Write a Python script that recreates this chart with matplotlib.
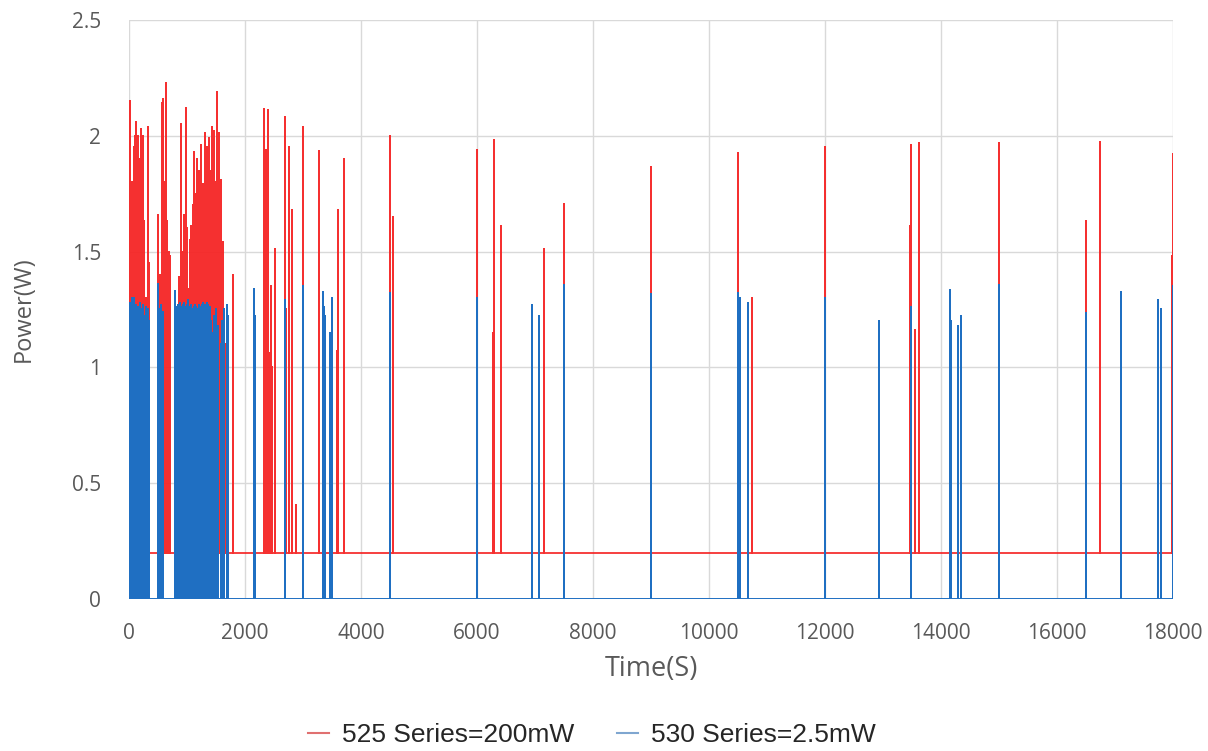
import matplotlib
matplotlib.use("Agg")
import matplotlib.pyplot as plt
from matplotlib.lines import Line2D

# ---- data: spike times (s) and peak powers (W) ----
red_base = 0.2
red_t = [17, 30, 45, 63, 80, 103, 121, 140, 161, 180, 207, 220, 236, 250, 264, 290, 322, 340,
         506, 530, 563, 578, 592, 610, 632, 645, 661, 685, 707,
         868, 897, 920, 948, 965, 983, 1000, 1023, 1045, 1063, 1090, 1110, 1126, 1150, 1178,
         1195, 1213, 1236, 1255, 1270, 1290, 1316, 1335, 1351, 1370, 1385, 1405, 1425, 1445,
         1466, 1490, 1512, 1530, 1546, 1565, 1580, 1605, 1627, 1650, 1799,
         2333, 2345, 2360, 2375, 2391, 2405, 2420, 2440, 2470, 2517, 2690, 2700, 2757, 2815,
         2879, 3006, 3276, 3580, 3597, 3712,
         4500, 4557, 6005, 6270, 6298, 6413, 7160, 7500, 8994, 10505, 10746, 12000,
         13462, 13490, 13548, 13617, 14998, 16500, 16742, 17990, 17997]
red_h = [2.15, 1.6, 1.8, 1.8, 1.95, 2.0, 2.06, 1.7, 2.0, 1.9, 2.03, 1.75, 2.0, 1.5, 1.63, 1.3, 2.04, 1.45,
         1.66, 1.4, 2.14, 1.9, 2.16, 1.8, 2.23, 1.9, 1.63, 1.5, 1.48,
         1.39, 2.05, 1.5, 1.66, 1.45, 2.12, 1.6, 1.34, 1.55, 1.61, 1.45, 1.7, 1.93, 1.75, 1.90,
         1.6, 1.85, 1.96, 1.7, 1.79, 1.6, 2.01, 1.75, 1.95, 1.8, 1.99, 1.85, 2.04, 1.9,
         2.02, 1.8, 2.19, 1.85, 2.01, 1.7, 1.81, 1.5, 1.54, 1.1, 1.40,
         2.115, 1.94, 1.94, 1.8, 2.11, 1.94, 1.06, 1.35, 1.0, 1.51, 2.08, 1.25, 1.95, 1.68,
         0.405, 2.04, 1.935, 1.07, 1.68, 1.90,
         2.0, 1.65, 1.94, 1.147, 1.98, 1.61, 1.51, 1.705, 1.866, 1.924, 1.30, 1.95,
         1.61, 1.96, 1.16, 1.97, 1.97, 1.63, 1.975, 1.48, 1.92]

blue_base = 0.0
blue_t = [17, 30, 45, 60, 75, 90, 105, 120, 140, 155, 175, 195, 215, 240, 265, 290, 320, 345,
          500, 530, 560, 590,
          790, 800, 812, 825, 838, 850, 862, 875, 888, 900, 912, 925, 938, 950, 962, 975, 988,
          1000, 1012, 1025, 1038, 1050, 1062, 1075, 1088, 1100, 1112, 1125, 1138, 1150, 1162,
          1175, 1188, 1200, 1212, 1225, 1238, 1250, 1262, 1275, 1288, 1300, 1312, 1325, 1338,
          1350, 1362, 1375, 1390, 1410, 1440, 1470, 1500, 1540, 1580, 1610, 1640, 1684, 1700,
          2155, 2170, 2690, 3006, 3350, 3365, 3380, 3465, 3505, 4500, 6005, 6953, 7074, 7500,
          8994, 10505, 10527, 10677, 12000, 12932, 13490, 14147, 14165, 14180, 14302, 14337,
          14350, 15000, 16500, 17099, 17750, 17790, 18000]
blue_h = [1.28, 1.26, 1.3, 1.25, 1.27, 1.3, 1.24, 1.27, 1.25, 1.26, 1.24, 1.28, 1.25, 1.27, 1.22, 1.26, 1.25, 1.2,
          1.36, 1.25, 1.27, 1.24,
          1.27, 1.33, 1.24, 1.26, 1.22, 1.27, 1.25, 1.28, 1.23, 1.26, 1.24, 1.27, 1.25, 1.28, 1.22, 1.26, 1.24,
          1.27, 1.25, 1.29, 1.23, 1.26, 1.24, 1.27, 1.22, 1.25, 1.26, 1.23, 1.27, 1.24, 1.26,
          1.22, 1.25, 1.27, 1.24, 1.26, 1.23, 1.27, 1.25, 1.28, 1.24, 1.26, 1.27, 1.25, 1.28,
          1.24, 1.27, 1.25, 1.26, 1.2, 1.15, 1.22, 1.25, 1.18, 1.1, 1.2, 1.25, 1.27, 1.22,
          1.34, 1.22, 1.29, 1.35, 1.325, 1.26, 1.22, 1.15, 1.30, 1.32, 1.30, 1.27, 1.22, 1.355,
          1.315, 1.32, 1.30, 1.28, 1.3, 1.20, 1.26, 1.335, 1.2, 1.2, 1.18, 1.22,
          1.09, 1.355, 1.235, 1.325, 1.29, 1.25, 1.35]

x_ticks = [0, 2000, 4000, 6000, 8000, 10000, 12000, 14000, 16000, 18000]
y_ticks = [0, 0.5, 1, 1.5, 2, 2.5]
y_tick_labels = ["0", "0.5", "1", "1.5", "2", "2.5"]
x_max = 18000

red_label = "525 Series=200mW"
blue_label = "530 Series=2.5mW"
red_color = "#F52525"
blue_color = "#1F6FC2"


def spike_series(ts, hs, base, tmax):
    xs, ys = [0], [base]
    for t, h in sorted(zip(ts, hs)):
        xs += [t, t, t]
        ys += [base, h, base]
    xs.append(tmax)
    ys.append(base)
    return xs, ys


fig = plt.figure(figsize=(12.08, 7.51), dpi=100)
ax = fig.add_axes([0.1068, 0.2024, 0.971 - 0.1068, 0.9734 - 0.2024])

rx, ry = spike_series(red_t, red_h, red_base, x_max)
bx, by = spike_series(blue_t, blue_h, blue_base, x_max)
ax.plot(rx, ry, color=red_color, lw=1.3, alpha=0.95, zorder=3)
ax.plot(bx, by, color=blue_color, lw=1.4, alpha=1.0, zorder=4)

ax.set_xlim(0, x_max)
ax.set_ylim(0, 2.5)
ax.set_xticks(x_ticks)
ax.set_xticklabels([str(v) for v in x_ticks])
ax.set_yticks(y_ticks)
ax.set_yticklabels(y_tick_labels)
ax.grid(True, color="#D9D9D9", lw=1.0, zorder=0)
ax.set_axisbelow(True)
for s in ax.spines.values():
    s.set_visible(False)
ax.tick_params(length=0, labelsize=15, colors="#595959")
ax.tick_params(axis="y", pad=20)
ax.tick_params(axis="x", pad=17)
for lab in ax.get_xticklabels() + ax.get_yticklabels():
    lab.set_fontfamily("Open Sans")

ax.set_xlabel("Time(S)", fontsize=19.5, color="#595959", family="Open Sans", labelpad=8)
ax.set_ylabel("Power(W)", fontsize=17, color="#595959", family="Open Sans", labelpad=26)

handles = [Line2D([0], [0], color="#E07070", lw=1.5),
           Line2D([0], [0], color="#7FA6D0", lw=1.5)]
fig.legend(handles, [red_label, blue_label], loc="center", bbox_to_anchor=(0.49, 0.021),
           ncol=2, frameon=False, handlelength=0.8, handletextpad=0.5, columnspacing=1.6,
           labelcolor="#262626", prop={"family": "Liberation Sans", "size": 19})

fig.savefig("out.png", dpi=100, facecolor="white")
